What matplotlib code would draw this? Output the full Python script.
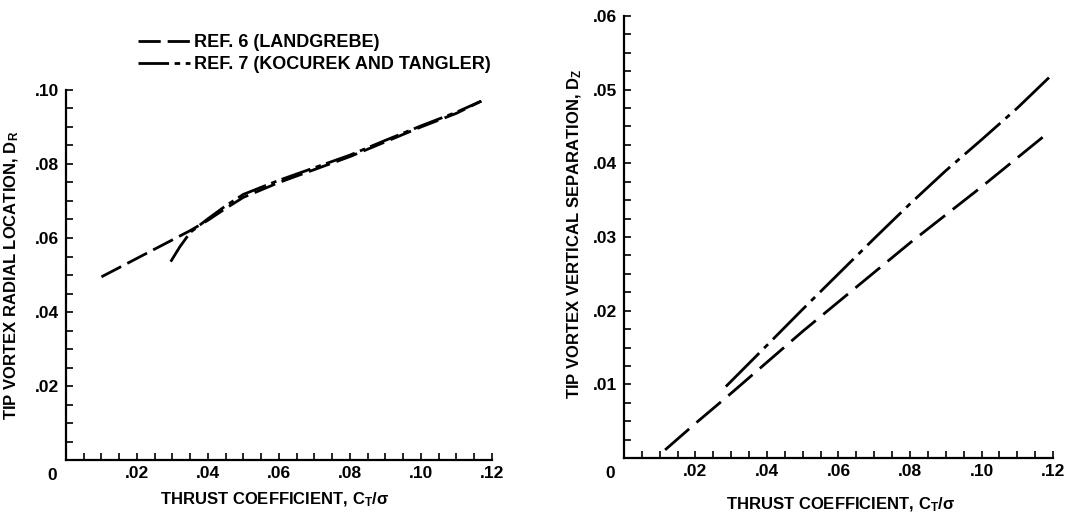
import numpy as np
import matplotlib
matplotlib.use('Agg')
import matplotlib.pyplot as plt
from matplotlib.ticker import MultipleLocator

plt.rcParams['font.family'] = ['Liberation Sans', 'DejaVu Sans']
plt.rcParams['font.weight'] = 'bold'
plt.rcParams['axes.labelweight'] = 'bold'
plt.rcParams['mathtext.default'] = 'regular'
plt.rcParams['lines.scale_dashes'] = False

ref6_ct = [0.010, 0.020, 0.030, 0.035, 0.040, 0.045, 0.050, 0.060, 0.070, 0.080, 0.090, 0.100, 0.110, 0.117]
ref6_dr = [0.0495, 0.0545, 0.0595, 0.0620, 0.0648, 0.0680, 0.0710, 0.0750, 0.0785, 0.0820, 0.0860, 0.0900, 0.0937, 0.0970]
ref7_ct = [0.0295, 0.032, 0.035, 0.040, 0.045, 0.050, 0.060, 0.070, 0.080, 0.090, 0.100, 0.110, 0.117]
ref7_dr = [0.0536, 0.0575, 0.0615, 0.0652, 0.0687, 0.0718, 0.0756, 0.0790, 0.0824, 0.0864, 0.0903, 0.0940, 0.0970]

# vertical separation D_Z vs C_T/sigma
ref6_ctz = [0.0115, 0.020, 0.030, 0.040, 0.050, 0.060, 0.070, 0.080, 0.090, 0.100, 0.1175]
ref6_dz = [0.0011, 0.0047, 0.0088, 0.0130, 0.0172, 0.0212, 0.0252, 0.0292, 0.0330, 0.0368, 0.0437]
ref7_ctz = [0.0285, 0.040, 0.050, 0.060, 0.070, 0.080, 0.090, 0.100, 0.110, 0.119]
ref7_dz = [0.0097, 0.0153, 0.0202, 0.0250, 0.0298, 0.0345, 0.0390, 0.0432, 0.0475, 0.0517]

xtick_vals = [0.02, 0.04, 0.06, 0.08, 0.10, 0.12]
xtick_labels = ['.02', '.04', '.06', '.08', '.10', '.12']
ytick_dr = [0.02, 0.04, 0.06, 0.08, 0.10]
ytick_dr_labels = ['.02', '.04', '.06', '.08', '.10']
ytick_dz = [0.01, 0.02, 0.03, 0.04, 0.05, 0.06]
ytick_dz_labels = ['.01', '.02', '.03', '.04', '.05', '.06']

fig = plt.figure(figsize=(10.92, 5.16), dpi=100)
ax1 = fig.add_axes([0.0604, 0.1085, 0.3901, 0.7171])
ax2 = fig.add_axes([0.5714, 0.1124, 0.3929, 0.8566])

lw = 2.0
ax1.plot(ref6_ct, ref6_dr, color='black', lw=lw, dashes=(16, 5), label='REF. 6 (LANDGREBE)')
ax1.plot(ref7_ct, ref7_dr, color='black', lw=lw, dashes=(22, 4, 4, 4), label='REF. 7 (KOCUREK AND TANGLER)')
ax2.plot(ref6_ctz, ref6_dz, color='black', lw=lw, dashes=(23, 7))
ax2.plot(ref7_ctz, ref7_dz, color='black', lw=lw, dashes=(34, 5, 4, 5))

fs_tick = 12.5
fs_lab = 12


def style(ax, ymax, yminor, yt, ytl):
    ax.set_xlim(0, 0.12)
    ax.set_ylim(0, ymax)
    for s in ['top', 'right']:
        ax.spines[s].set_visible(False)
    for s in ['left', 'bottom']:
        ax.spines[s].set_linewidth(1.6)
    ax.set_xticks(xtick_vals)
    ax.set_xticklabels(xtick_labels)
    ax.xaxis.set_minor_locator(MultipleLocator(0.005))
    ax.set_yticks(yt)
    ax.set_yticklabels(ytl)
    ax.yaxis.set_minor_locator(MultipleLocator(yminor))
    ax.tick_params(which='both', direction='in', length=5, width=1.2, labelsize=fs_tick)
    ax.tick_params(axis='x', which='major', pad=4)
    ax.tick_params(axis='y', which='major', pad=5)
    ax.annotate('0', xy=(0, 0), xytext=(-10, -11), textcoords='offset points',
                ha='center', va='center', fontsize=fs_tick, fontweight='bold',
                annotation_clip=False)


style(ax1, 0.10, 0.005, ytick_dr, ytick_dr_labels)
style(ax2, 0.06, 0.0025, ytick_dz, ytick_dz_labels)

ax1.set_xlabel(r'THRUST COEFFICIENT, C$_\mathregular{T}$/$\sigma$', fontsize=fs_lab, fontweight='bold')
ax1.set_ylabel(r'TIP VORTEX RADIAL LOCATION, D$_\mathregular{R}$', fontsize=fs_lab, fontweight='bold')
ax2.set_xlabel(r'THRUST COEFFICIENT, C$_\mathregular{T}$/$\sigma$', fontsize=fs_lab, fontweight='bold')
ax2.set_ylabel(r'TIP VORTEX VERTICAL SEPARATION, D$_\mathregular{Z}$', fontsize=fs_lab, fontweight='bold')
ax1.xaxis.set_label_coords(0.49, -0.082)
ax1.yaxis.set_label_coords(-0.105, 0.5)
ax2.xaxis.set_label_coords(0.506, -0.084)
ax2.yaxis.set_label_coords(-0.093, 0.507)

fig.legend(loc='upper left', bbox_to_anchor=(0.126, 0.934), frameon=False,
           prop={'size': 13, 'weight': 'bold'}, handlelength=2.9, handletextpad=0.25,
           labelspacing=0.28, borderpad=0, borderaxespad=0)

fig.savefig('out.png', dpi=100)
